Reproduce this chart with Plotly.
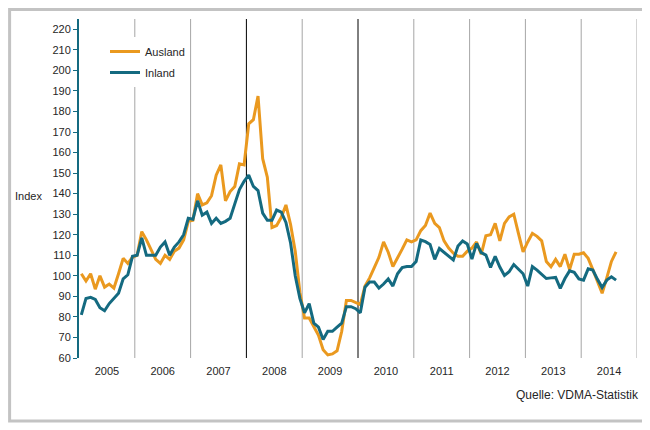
import plotly.graph_objects as go

years = [2005, 2006, 2007, 2008, 2009, 2010, 2011, 2012, 2013, 2014]

ausland = [
    101, 97.5, 101, 93.5, 100, 94.5, 96, 94, 101, 108.5, 106, 109,
    110, 121.5, 117.5, 112.5, 108, 106, 110, 108, 112, 113.5, 117.5, 126.5,
    127, 140, 134.5, 135.5, 139, 149, 154, 136.5, 141, 143.5, 154.5, 154,
    174, 176, 187.5, 157, 148, 123.5, 124.5, 128.5, 134.5, 125, 112, 92,
    79.5, 79.5, 75, 71, 64, 61.5, 62, 63.5, 73, 88, 88, 87,
    86, 95, 99, 104, 109, 116.5, 111.5, 104.5, 108.5, 113, 117.5, 116.5,
    117.5, 122, 124.5, 130.5, 125.5, 123.5, 117, 113.5, 111, 109.5, 109.5, 112,
    113.5, 116.5, 110.5, 119.5, 120, 125.5, 117, 125.5, 128.7, 130, 120.7, 111.7,
    116.5, 120.7, 119.2, 117, 107, 104.4, 108, 104.5, 110.5, 103, 110.5, 110.5,
    111.2, 108.5, 103, 97.5, 91.5, 99, 107, 111.7,
]

inland = [
    81, 89, 89.5, 88.5, 84.5, 83, 86.5, 89, 91.5, 98.5, 100.5, 109.5,
    110, 118.5, 110, 110, 110, 114, 116.5, 110, 114, 116.5, 120, 128,
    127.5, 136.5, 129.5, 131, 125.5, 128, 125.5, 126.5, 128, 135, 142, 146,
    149, 143.5, 141.5, 130.5, 127, 127, 132, 131, 126, 116, 100, 89,
    82, 86.5, 77, 75, 69, 73, 73, 75, 77, 85, 85, 84,
    82, 94.5, 97, 97, 94, 96, 98.5, 95, 101, 104, 104.5, 104.5,
    107, 117.4, 116.6, 115.2, 108, 113.3, 111.5, 109.6, 107.7, 114.5, 117, 115.5,
    108.2, 115.8, 111.3, 110.1, 104.1, 109.5, 104.3, 100.2, 102, 105.5, 103, 101,
    95, 104.5, 102.8, 100.8, 98.7, 99, 99.2, 93.9, 98.7, 102.4, 101.7, 98.5,
    97.9, 103.4, 102.8, 98.3, 94.3, 97.9, 99.5, 97.9,
]

y_ticks = list(range(60, 221, 10))

ORANGE = "#EA991F"
TEAL = "#146A80"
FONT = "Liberation Sans, Arial, sans-serif"

months = [i + 0.5 for i in range(len(ausland))]

fig = go.Figure()
fig.add_trace(go.Scatter(x=months, y=ausland, mode="lines", name="Ausland",
                         legendgroup="a", line=dict(color=ORANGE, width=3)))
fig.add_trace(go.Scatter(x=months, y=inland, mode="lines", name="Inland",
                         legendgroup="b", line=dict(color=TEAL, width=3)))

# year separators
black_after = {2007, 2009}
for k, yr in enumerate(years):
    xb = (k + 1) * 12
    fig.add_shape(type="line", xref="x", yref="paper", x0=xb, x1=xb, y0=0, y1=1,
                  line=dict(color="#000000" if yr in black_after else "#a6a6a6", width=1),
                  layer="below")

# page has an 8px body margin; plot area in page px: x 79..637, y 19..358
def px_x(p):
    return (p - 79) / 558.0

def px_y(p):
    return (358 - p) / 339.0

fig.add_shape(type="rect", xref="paper", yref="paper",
              x0=px_x(9.6), x1=px_x(643.5), y0=px_y(421), y1=px_y(9.6),
              line=dict(color="#c3c3c3", width=3), fillcolor="rgba(0,0,0,0)")

fig.add_annotation(text="Index", xref="paper", yref="paper", x=px_x(28), y=px_y(196),
                   xanchor="center", yanchor="middle", showarrow=False,
                   font=dict(family=FONT, size=11, color="#262626"))
fig.add_annotation(text="Quelle: VDMA-Statistik", xref="paper", yref="paper",
                   x=px_x(641), y=px_y(395), xanchor="right", yanchor="middle",
                   showarrow=False, font=dict(family=FONT, size=12, color="#262626"))

fig.update_layout(
    width=642, height=422,
    margin=dict(l=71, r=13, t=11, b=72, pad=0),
    paper_bgcolor="white", plot_bgcolor="white",
    font=dict(family=FONT, size=11, color="#262626"),
    showlegend=True,
    legend=dict(x=px_x(105), y=px_y(37), xanchor="left", yanchor="top",
                bgcolor="white", borderwidth=0, font=dict(family=FONT, size=11, color="#262626"),
                tracegroupgap=2, itemwidth=30),
    xaxis=dict(range=[0, 120], tickvals=[k * 12 + 6 for k in range(len(years))],
               ticktext=[str(y) for y in years], showgrid=False, zeroline=False,
               showline=False, ticks="outside", ticklen=3, tickcolor="rgba(0,0,0,0)",
               tickfont=dict(size=11)),
    yaxis=dict(range=[60, 225], tickvals=y_ticks, ticktext=[str(v) for v in y_ticks],
               showgrid=False, zeroline=False, showline=True, linecolor=TEAL, linewidth=2,
               ticks="outside", ticklen=4, tickcolor=TEAL, tickwidth=1,
               tickfont=dict(size=11)),
)

fig.write_html("out.html")
